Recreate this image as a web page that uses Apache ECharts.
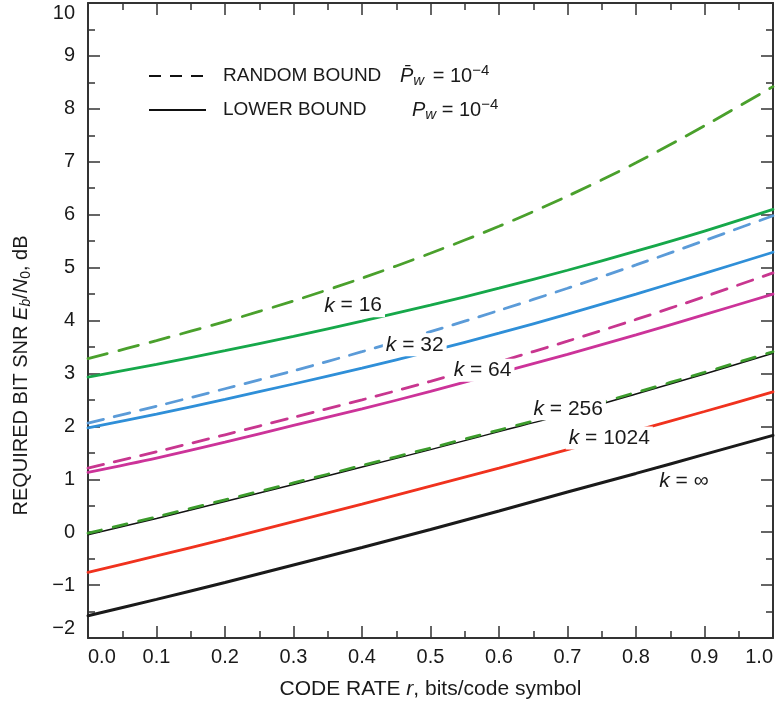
<!DOCTYPE html>
<html>
<head>
<meta charset="utf-8">
<title>Required bit SNR vs code rate</title>
<script src="https://cdn.jsdelivr.net/npm/echarts@6.0.0/dist/echarts.min.js"></script>
<style>html,body{margin:0;padding:0;background:#fff;}</style>
</head>
<body>
<div id="chart" style="width:779px;height:706px;"></div>
<script>
// code rate r (x axis)
var rates = [0, 0.1, 0.2, 0.3, 0.4, 0.5, 0.6, 0.7, 0.8, 0.9, 1.0];

// random bound (dashed), Eb/N0 in dB
var rand16  = [3.28, 3.62, 3.98, 4.37, 4.80, 5.27, 5.78, 6.35, 6.98, 7.68, 8.42];
var rand32  = [2.06, 2.38, 2.71, 3.05, 3.41, 3.79, 4.19, 4.61, 5.05, 5.51, 5.98];
var rand64  = [1.21, 1.52, 1.84, 2.17, 2.50, 2.85, 3.22, 3.61, 4.02, 4.45, 4.90];
var rand256 = [-0.02, 0.29, 0.61, 0.93, 1.26, 1.59, 1.93, 2.27, 2.64, 3.02, 3.41];

// lower bound (solid)
var low16   = [2.93, 3.17, 3.43, 3.70, 3.99, 4.29, 4.61, 4.95, 5.31, 5.69, 6.10];
var low32   = [1.97, 2.23, 2.51, 2.80, 3.10, 3.42, 3.76, 4.12, 4.50, 4.89, 5.29];
var low64   = [1.13, 1.40, 1.70, 2.02, 2.33, 2.66, 3.01, 3.36, 3.73, 4.11, 4.50];
var low256  = [-0.05, 0.26, 0.58, 0.90, 1.23, 1.56, 1.90, 2.24, 2.61, 2.99, 3.38];
var low1024 = [-0.76, -0.45, -0.13, 0.20, 0.53, 0.87, 1.21, 1.56, 1.92, 2.28, 2.65];
var lowInf  = [-1.58, -1.27, -0.95, -0.62, -0.29, 0.05, 0.40, 0.76, 1.11, 1.47, 1.83];

// curve labels: k value and where it sits (rate, dB)
var kNames  = ['16', '32', '64', '256', '1024', '\u221e'];
var kRate   = [0.387, 0.477, 0.576, 0.701, 0.761, 0.870];
var kSnr    = [4.28, 3.54, 3.06, 2.33, 1.78, 0.96];

var xTicks = [0, 1];
var yTicks = [-2, 10];

function pairs(ys) {
    return rates.map(function (r, i) { return [r, ys[i]]; });
}

var FONT = '"Liberation Sans", Arial, Helvetica, sans-serif';
var INK = '#1a1a1a';
var FRAME = '#333';

function curve(name, ys, color, width, dash, z) {
    return {
        name: name,
        type: 'line',
        data: pairs(ys),
        symbol: 'none',
        smooth: 0.3,
        z: z,
        lineStyle: { color: color, width: width, type: dash || 'solid', cap: 'round' },
        itemStyle: { color: color },
        emphasis: { disabled: true }
    };
}

var axisCommon = {
    type: 'value',
    axisLine: { show: true, onZero: false, lineStyle: { color: FRAME, width: 2 } },
    axisTick: { show: true, inside: true, length: 12, lineStyle: { color: FRAME, width: 1.5 } },
    minorTick: { show: true, splitNumber: 2, length: 7, lineStyle: { color: FRAME, width: 1.5 } },
    splitLine: { show: false },
    minorSplitLine: { show: false }
};

function ax(extra) {
    return Object.assign({}, JSON.parse(JSON.stringify(axisCommon)), extra);
}

var legendRich = {
    n1: { fontFamily: FONT, fontSize: 19, color: INK, width: 177, padding: [0, 0, 0, 12] },
    n2: { fontFamily: FONT, fontSize: 19, color: INK, width: 189, padding: [0, 0, 0, 12] },
    pi: { fontFamily: FONT, fontSize: 20, color: INK, fontStyle: 'italic' },
    s1: { fontFamily: FONT, fontSize: 15, color: INK, fontStyle: 'italic', padding: [10, 3, 0, 0] },
    s2: { fontFamily: FONT, fontSize: 15, color: INK, fontStyle: 'italic', padding: [10, 0, 0, 0] },
    t: { fontFamily: FONT, fontSize: 20, color: INK },
    sup: { fontFamily: FONT, fontSize: 15, color: INK, padding: [0, 0, 11, 0] }
};

function legendBox(name, top, text) {
    return {
        data: [name],
        left: 148, top: top, padding: 0,
        itemWidth: 57, itemHeight: 14,
        selectedMode: false,
        itemStyle: { opacity: 0, borderWidth: 0 },
        textStyle: { fontFamily: FONT, fontSize: 19, color: INK, rich: legendRich },
        formatter: function () { return text; }
    };
}

var chart = echarts.init(document.getElementById('chart'));

chart.setOption({
    animation: false,
    backgroundColor: '#fff',
    textStyle: { fontFamily: FONT },
    grid: { left: 88, right: 6, top: 3, bottom: 68 },
    legend: [
        legendBox('RANDOM BOUND', 63, '{n1|RANDOM BOUND}{pi|P\u0304}{s1|w}{t| = 10}{sup|\u22124}'),
        legendBox('LOWER BOUND', 97, '{n2|LOWER BOUND}{pi|P}{s2|w}{t| = 10}{sup|\u22124}')
    ],
    xAxis: [
        ax({
            position: 'bottom',
            min: xTicks[0], max: xTicks[1], interval: 0.1,
            name: '{n|CODE RATE }{i|r}{n|, bits/code symbol}',
            nameLocation: 'middle',
            nameGap: 41,
            nameTextStyle: {
                rich: {
                    n: { fontFamily: FONT, fontSize: 21, color: INK },
                    i: { fontFamily: FONT, fontSize: 21, color: INK, fontStyle: 'italic' }
                }
            },
            axisLabel: {
                show: true, margin: 9,
                fontFamily: FONT, fontSize: 20, color: INK,
                alignMinLabel: 'left', alignMaxLabel: 'right',
                formatter: function (v) { return v.toFixed(1); }
            }
        }),
        ax({
            position: 'top',
            min: xTicks[0], max: xTicks[1], interval: 0.1,
            axisLabel: { show: false }
        })
    ],
    yAxis: [
        ax({
            position: 'left',
            min: yTicks[0], max: yTicks[1], interval: 1,
            name: '{n|REQUIRED BIT SNR }{i|E}{si|b}{n|/}{i|N}{s|0}{n|, dB}',
            nameLocation: 'middle',
            nameGap: 55,
            nameTextStyle: {
                padding: [0, 110, 0, 0],
                rich: {
                    n: { fontFamily: FONT, fontSize: 20, color: INK },
                    i: { fontFamily: FONT, fontSize: 20, color: INK, fontStyle: 'italic' },
                    si: { fontFamily: FONT, fontSize: 14, color: INK, fontStyle: 'italic', padding: [10, 0, 0, 0] },
                    s: { fontFamily: FONT, fontSize: 14, color: INK, padding: [10, 0, 0, 0] }
                }
            },
            axisLabel: {
                show: true, margin: 13,
                fontFamily: FONT, fontSize: 20, color: INK,
                verticalAlignMinLabel: 'bottom', verticalAlignMaxLabel: 'top',
                formatter: function (v) { return String(v).replace('-', '\u2212'); }
            }
        }),
        ax({
            position: 'right',
            min: yTicks[0], max: yTicks[1], interval: 1,
            axisLabel: { show: false }
        })
    ],
    series: [
        { name: 'RANDOM BOUND', type: 'line', data: [], symbol: 'none',
          lineStyle: { color: '#111', width: 2.5, type: [12, 9] }, itemStyle: { color: '#111' } },
        { name: 'LOWER BOUND', type: 'line', data: [], symbol: 'none',
          lineStyle: { color: '#111', width: 2.5 }, itemStyle: { color: '#111' } },

        curve('k=16 lower', low16, '#16a84a', 2.8, null, 2),
        curve('k=32 lower', low32, '#2f8fd8', 2.8, null, 2),
        curve('k=64 lower', low64, '#cc3399', 2.8, null, 2),
        curve('k=256 lower', low256, '#111111', 1.5, null, 2),
        curve('k=1024 lower', low1024, '#f0321e', 2.8, null, 2),
        curve('k=inf lower', lowInf, '#1a1a1a', 3, null, 2),

        curve('k=16 random', rand16, '#4aa02c', 2.8, [20, 12], 3),
        curve('k=32 random', rand32, '#5b9bd8', 2.8, [16, 11], 3),
        curve('k=64 random', rand64, '#c8368f', 2.8, [16, 11], 3),
        curve('k=256 random', rand256, '#3c9c2c', 2.8, [14, 12], 3),

        {
            name: 'k labels',
            type: 'scatter',
            z: 10,
            symbolSize: 1,
            itemStyle: { color: '#fff', opacity: 1 },
            emphasis: { disabled: true },
            data: kRate.map(function (r, i) { return { value: [r, kSnr[i]], name: kNames[i] }; }),
            label: {
                show: true,
                position: 'inside',
                opacity: 1,
                fontFamily: FONT, fontSize: 21, color: INK,
                textBorderWidth: 0,
                backgroundColor: '#fff',
                padding: [1, 3],
                formatter: function (p) { return '{i|k} = ' + p.name; },
                rich: {
                    i: { fontFamily: FONT, fontSize: 21, color: INK, fontStyle: 'italic', textBorderWidth: 0 }
                }
            }
        }
    ]
});
</script>
</body>
</html>
